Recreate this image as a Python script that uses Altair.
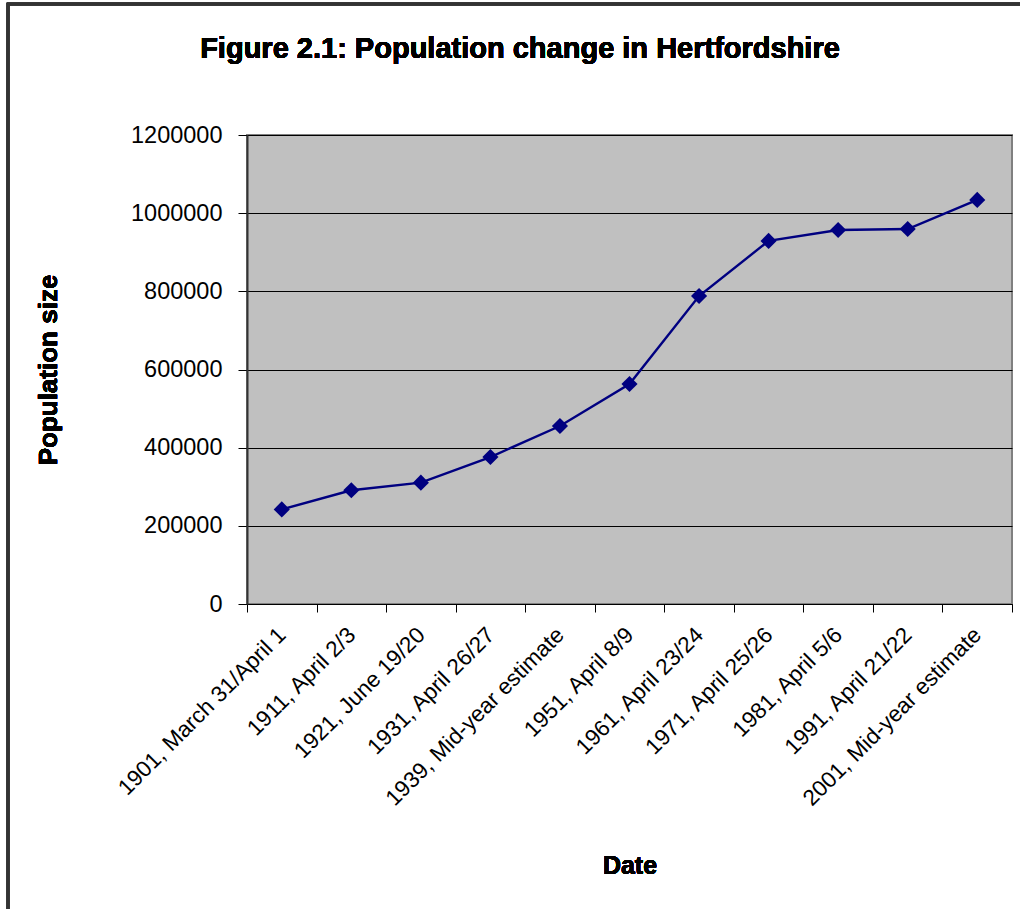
import altair as alt
import pandas as pd

# Census dates and population counts for Hertfordshire
dates = [
    "1901, March 31/April 1",
    "1911, April 2/3",
    "1921, June 19/20",
    "1931, April 26/27",
    "1939, Mid-year estimate",
    "1951, April 8/9",
    "1961, April 23/24",
    "1971, April 25/26",
    "1981, April 5/6",
    "1991, April 21/22",
    "2001, Mid-year estimate",
]
population = [
    242000, 291000, 310500, 376000, 455500, 563000,
    788000, 929000, 957000, 959500, 1034000,
]
y_ticks = [0, 200000, 400000, 600000, 800000, 1000000, 1200000]

df = pd.DataFrame({"Date": dates, "Population": population})

FONT = "Liberation Sans"
W, H = 765, 469
PAD_L, PAD_T = 247, 135

x_enc = alt.X(
    "Date:N",
    sort=dates,
    bandPosition=0.5,
    scale=alt.Scale(type="band", paddingInner=0, paddingOuter=0),
    axis=alt.Axis(
        title=None,
        labelAngle=-45,
        labelAlign="right",
        labelBaseline="middle",
        labelFont=FONT,
        labelFontSize=22.5,
        labelColor="black",
        labelPadding=19,
        labelLimit=400,
        tickBand="extent",
        tickColor="black",
        tickSize=8,
        domainColor="black",
        grid=False,
    ),
)
y_enc = alt.Y(
    "Population:Q",
    scale=alt.Scale(domain=[0, 1200000], nice=False),
    axis=alt.Axis(
        title=None,
        values=y_ticks,
        format="d",
        labelFont=FONT,
        labelFontSize=23.5,
        labelColor="black",
        labelPadding=16,
        tickColor="black",
        tickSize=9,
        domainColor="#333333",
        domainWidth=2,
        gridColor="black",
        gridWidth=1,
    ),
)

base = alt.Chart(df)

line = base.mark_line(color="#000080", strokeWidth=2.4).encode(x=x_enc, y=y_enc)
points = base.mark_point(
    shape="diamond", filled=True, size=260, color="#000080", opacity=1
).encode(x=x_enc, y=y_enc)

# Chart frame drawn around the whole figure
frame = alt.Chart(df).mark_rect(
    fill=None, stroke="#333333", strokeWidth=2.5
).encode(
    x=alt.value(-PAD_L + 8),
    x2=alt.value(W + 40),
    y=alt.value(-PAD_T + 4),
    y2=alt.value(H + 400),
)

title = alt.Chart(df).mark_text(
    text="Figure 2.1: Population change in Hertfordshire",
    font=FONT, fontSize=29, fontWeight="bold", color="black",
    align="center", baseline="middle",
).encode(x=alt.value(520 - PAD_L), y=alt.value(49 - PAD_T))

y_title = alt.Chart(df).mark_text(
    text="Population size",
    font=FONT, fontSize=26, fontWeight="bold", color="black",
    align="center", baseline="middle", angle=270,
).encode(x=alt.value(49 - PAD_L), y=alt.value(370 - PAD_T))

x_title = alt.Chart(df).mark_text(
    text="Date",
    font=FONT, fontSize=25, fontWeight="bold", color="black",
    align="center", baseline="middle",
).encode(x=alt.value(630 - PAD_L), y=alt.value(866 - PAD_T))

chart = (
    alt.layer(line, points, frame, title, y_title, x_title)
    .properties(
        width=W,
        height=H,
        autosize=alt.AutoSizeParams(type="none"),
        padding={"left": PAD_L, "top": PAD_T, "right": 1020 - PAD_L - W, "bottom": 909 - PAD_T - H},
        background="white",
    )
    .configure_view(fill="#C0C0C0", stroke="#808080", strokeWidth=2)
)

chart.save("out.html", embed_options={"renderer": "svg", "actions": False})
